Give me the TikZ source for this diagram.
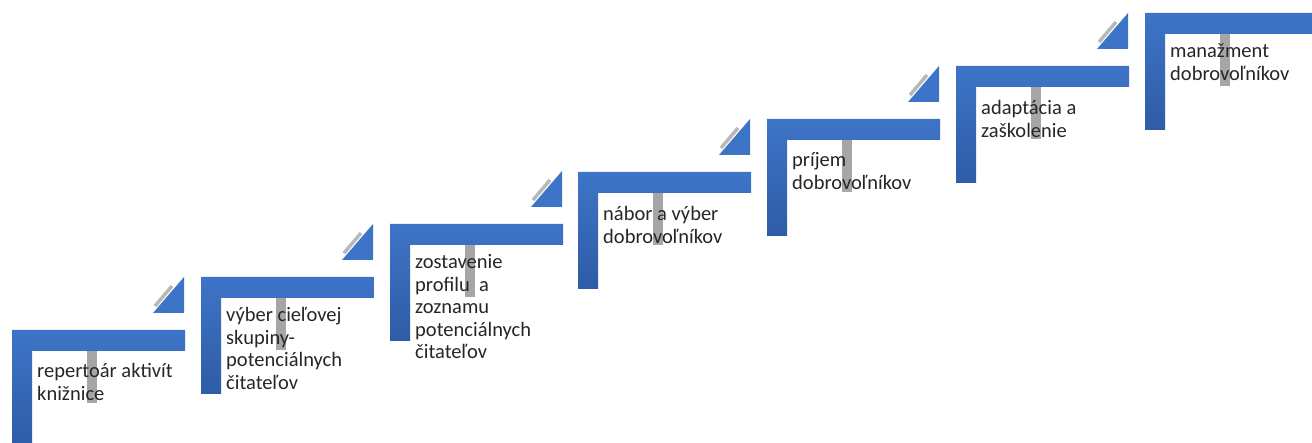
\documentclass[tikz,border=0pt]{standalone}
\usepackage{fontspec}
\setmainfont{Carlito}
\usepackage{tikz}

\definecolor{steplight}{RGB}{62,116,199}
\definecolor{stepdark}{RGB}{46,92,166}
\definecolor{barfill}{RGB}{166,166,166}
\definecolor{stripecol}{RGB}{184,184,184}
\definecolor{labeltext}{RGB}{38,38,38}

\begin{document}
\begin{tikzpicture}[x=1pt,y=-1pt,
  stepshape/.style={top color=steplight,bottom color=stepdark,draw=none},
  graybar/.style={fill=barfill,draw=none},
  arrowtri/.style={fill=steplight,draw=none},
  stripe/.style={draw=stripecol,line width=3.5pt},
  steplabel/.style={anchor=base west,align=left,inner sep=0pt,text=labeltext,
    font=\fontsize{20.5}{22.5}\selectfont}]
\useasboundingbox (0,0) rectangle (1312,443);
\clip (0,0) rectangle (1312,443);

% step 1
\shade[stepshape] (12,330) -- (185,330) -- (185,351) -- (32,351) -- (32,447) -- (12,447) -- cycle;
\fill[graybar] (87,351) rectangle (97,403);
\fill[arrowtri] (153,313) -- (184,313) -- (184,277) -- cycle;
\draw[stripe] (155,306) -- (172,286);
\node[steplabel] (repertoar) at (37,400.5) {repertoár aktivít\\knižnice};

% step 2
\shade[stepshape] (201,277) -- (374,277) -- (374,298) -- (221,298) -- (221,394) -- (201,394) -- cycle;
\fill[graybar] (276,298) rectangle (286,350);
\fill[arrowtri] (342,260) -- (373,260) -- (373,224) -- cycle;
\draw[stripe] (344,253) -- (361,233);
\node[steplabel] (vyber) at (226,389.5) {výber cieľovej\\skupiny-\\potenciálnych\\čitateľov};

% step 3
\shade[stepshape] (390,224) -- (563,224) -- (563,245) -- (410,245) -- (410,341) -- (390,341) -- cycle;
\fill[graybar] (465,245) rectangle (475,297);
\fill[arrowtri] (531,207) -- (562,207) -- (562,171) -- cycle;
\draw[stripe] (533,200) -- (550,180);
\node[steplabel] (profil) at (415,359) {zostavenie\\profilu~~a\\zoznamu\\potenciálnych\\čitateľov};

% step 4
\shade[stepshape] (578,172) -- (751,172) -- (751,193) -- (598,193) -- (598,289) -- (578,289) -- cycle;
\fill[graybar] (653,193) rectangle (663,245);
\fill[arrowtri] (719,155) -- (750,155) -- (750,119) -- cycle;
\draw[stripe] (721,148) -- (738,128);
\node[steplabel] (nabor) at (603,243.5) {nábor a výber\\dobrovoľníkov};

% step 5
\shade[stepshape] (767,119) -- (940,119) -- (940,140) -- (787,140) -- (787,236) -- (767,236) -- cycle;
\fill[graybar] (842,140) rectangle (852,192);
\fill[arrowtri] (908,102) -- (939,102) -- (939,66) -- cycle;
\draw[stripe] (910,95) -- (927,75);
\node[steplabel] (prijem) at (792,189.5) {príjem\\dobrovoľníkov};

% step 6
\shade[stepshape] (956,66) -- (1129,66) -- (1129,87) -- (976,87) -- (976,183) -- (956,183) -- cycle;
\fill[graybar] (1031,87) rectangle (1041,139);
\fill[arrowtri] (1097,49) -- (1128,49) -- (1128,13) -- cycle;
\draw[stripe] (1099,42) -- (1116,22);
\node[steplabel] (adaptacia) at (981,137.5) {adaptácia a\\zaškolenie};

% step 7
\shade[stepshape] (1145,13) -- (1318,13) -- (1318,34) -- (1165,34) -- (1165,130) -- (1145,130) -- cycle;
\fill[graybar] (1220,34) rectangle (1230,86);
\node[steplabel] (manazment) at (1170,80.5) {manažment\\dobrovoľníkov};
\end{tikzpicture}
\end{document}
